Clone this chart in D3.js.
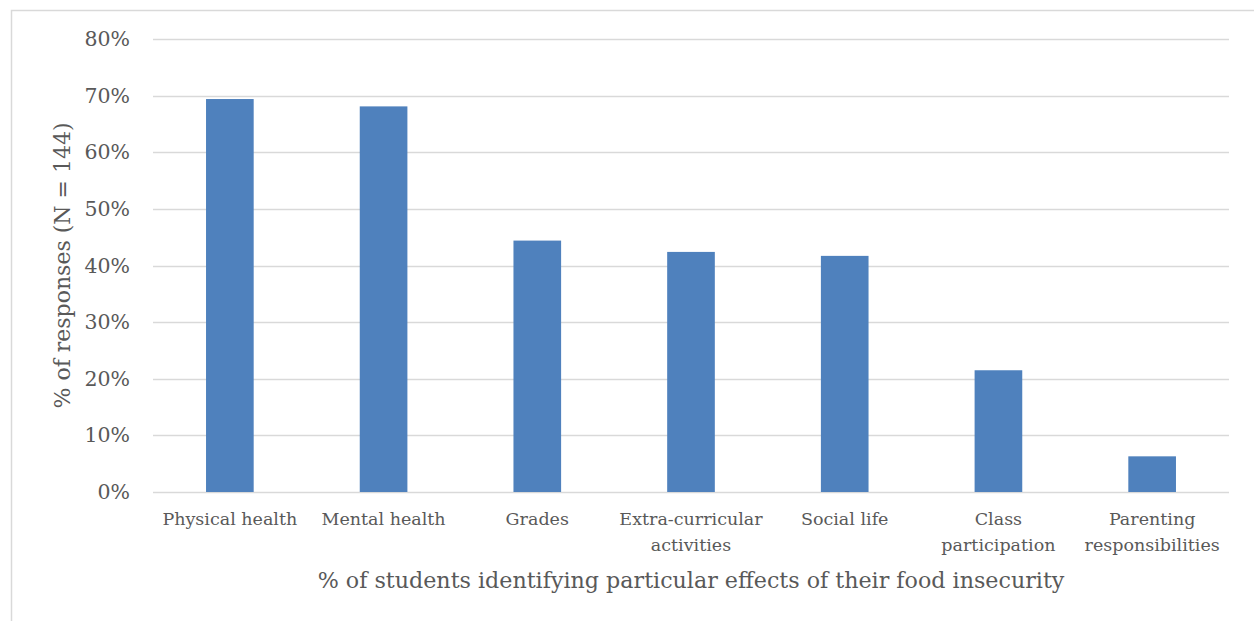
<!DOCTYPE html>
<html>
<head>
<meta charset="utf-8">
<script src="https://cdn.jsdelivr.net/npm/d3@7"></script>
<style>
  body { margin: 0; background: #fff; }
  svg text { font-family: "DejaVu Serif", serif; fill: #595959; }
</style>
</head>
<body>
<div id="chart"></div>
<script>
var categories = [["Physical health"], ["Mental health"], ["Grades"], ["Extra-curricular", "activities"], ["Social life"], ["Class", "participation"], ["Parenting", "responsibilities"]];
var values = [69.4, 68.1, 44.4, 42.4, 41.7, 21.5, 6.3];
var yTicks = [0, 10, 20, 30, 40, 50, 60, 70, 80];

var W = 1254, H = 621;
var margin = {top: 39, right: 25, bottom: 129, left: 153},
    width = W - margin.left - margin.right,
    height = H - margin.top - margin.bottom;

var root = d3.select("#chart").append("svg")
    .attr("width", W)
    .attr("height", H);

// outer frame
root.append("path")
    .attr("d", "M11.5," + H + " L11.5,10.5 L" + W + ",10.5")
    .attr("fill", "none")
    .attr("stroke", "#d9d9d9")
    .attr("stroke-width", 1.5);

var svg = root.append("g")
    .attr("transform", "translate(" + margin.left + "," + margin.top + ")");

var keys = categories.map(function(c) { return c.join(" "); });

var x = d3.scaleBand()
    .range([0, width])
    .domain(keys)
    .paddingInner(0.69)
    .paddingOuter(0.345);

var y = d3.scaleLinear()
    .range([height, 0])
    .domain([0, 80]);

// gridlines
svg.selectAll(".grid")
    .data(yTicks)
    .enter()
    .append("line")
    .attr("x1", 0)
    .attr("x2", width)
    .attr("y1", function(d) { return Math.round(y(d)) + 0.5; })
    .attr("y2", function(d) { return Math.round(y(d)) + 0.5; })
    .style("stroke", "#d9d9d9")
    .style("stroke-width", 1.5);

// y tick labels
var yAxis = svg.append("g")
    .call(d3.axisLeft(y).tickValues(yTicks).tickSize(0).tickPadding(23)
        .tickFormat(function(d) { return d + "%"; }));
yAxis.select(".domain").remove();
yAxis.selectAll("text")
    .style("font-size", "20.5px")
    .style("fill", "#595959")
    .style("font-family", "DejaVu Serif");

// bars
svg.selectAll(".bar")
    .data(values)
    .enter()
    .append("rect")
    .attr("x", function(d, i) { return x(keys[i]); })
    .attr("y", function(d) { return y(d); })
    .attr("width", x.bandwidth())
    .attr("height", function(d) { return height - y(d); })
    .style("fill", "#4f81bd");

// x category labels
var xLab = svg.selectAll(".xlab")
    .data(categories)
    .enter()
    .append("text")
    .attr("text-anchor", "middle")
    .attr("x", function(d) { return x(d.join(" ")) + x.bandwidth() / 2; })
    .attr("y", height + 33)
    .style("font-size", "17.5px");
xLab.selectAll("tspan")
    .data(function(d) { return d; })
    .enter()
    .append("tspan")
    .attr("x", function() { return d3.select(this.parentNode).attr("x"); })
    .attr("dy", function(d, i) { return i === 0 ? 0 : 26; })
    .text(function(d) { return d; });

// axis titles
svg.append("text")
    .attr("text-anchor", "middle")
    .attr("x", width / 2)
    .attr("y", height + 96)
    .style("font-size", "22.2px")
    .text("% of students identifying particular effects of their food insecurity");

svg.append("text")
    .attr("text-anchor", "middle")
    .attr("transform", "translate(" + (-83) + "," + (height / 2) + ") rotate(-90)")
    .style("font-size", "22px")
    .text("% of responses (N = 144)");
</script>
</body>
</html>
